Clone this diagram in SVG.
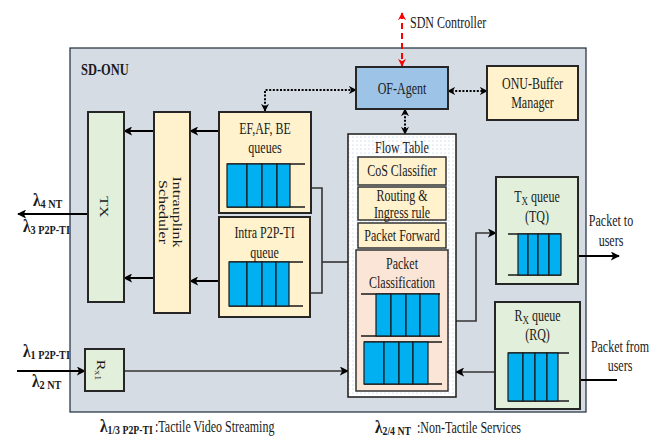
<svg xmlns="http://www.w3.org/2000/svg" width="664" height="436" viewBox="0 0 664 436">
  <style>
    .t { font-family: "Liberation Serif", "Times New Roman", serif; font-size: 16px; fill: #1a1a1a; }
    .b { font-weight: bold; }
    .box { stroke: #262626; stroke-width: 2; }
    .sub { stroke: #333; stroke-width: 1.5; }
    .cream { fill: #fff2cc; }
    .green { fill: #e2efda; }
    .cell { fill: #00b0f0; stroke: #1a1a1a; stroke-width: 1.2; }
    .rail { stroke: #1a1a1a; stroke-width: 1.5; fill: none; }
    .wire { stroke: #000; stroke-width: 2; fill: none; }
    .thin { stroke: #333; stroke-width: 1.6; fill: none; }
    .dot { stroke: #000; stroke-width: 2; stroke-dasharray: 2 1.6; fill: none; }
    .red { stroke: #ff0000; stroke-width: 2; stroke-dasharray: 6 4; fill: none; }
  </style>
  <defs>
    <marker id="ah" viewBox="0 0 10 10" refX="9" refY="5" markerWidth="9" markerHeight="9" markerUnits="userSpaceOnUse" orient="auto-start-reverse">
      <path d="M0,0 L10,5 L0,10 L2.5,5 z" fill="#000"/>
    </marker>
    <marker id="ahd" viewBox="0 0 10 10" refX="9" refY="5" markerWidth="8" markerHeight="8" markerUnits="userSpaceOnUse" orient="auto-start-reverse">
      <path d="M0,0 L10,5 L0,10 L3,5 z" fill="#000"/>
    </marker>
    <marker id="ahr" viewBox="0 0 10 10" refX="9" refY="5" markerWidth="8" markerHeight="8" markerUnits="userSpaceOnUse" orient="auto-start-reverse">
      <path d="M0,0 L10,5 L0,10 L3,5 z" fill="#ff0000"/>
    </marker>
    <pattern id="dots" width="4" height="4" patternUnits="userSpaceOnUse">
      <rect width="4" height="4" fill="#ffffff"/>
      <circle cx="1" cy="1" r="0.6" fill="#a9c1de"/>
    </pattern>
  </defs>

  <!-- SD-ONU enclosure -->
  <g id="sd-onu">
    <rect x="70" y="48" width="516" height="364" fill="#d6dce4" stroke="#1c2b39" stroke-width="1.2"/>
    <text class="t b" transform="translate(81,75) scale(.78 1)">SD-ONU</text>
  </g>

  <!-- connectors -->
  <g id="connectors">
    <path class="red" d="M402,13 V66" marker-start="url(#ahr)" marker-end="url(#ahr)"/>
    <path class="dot" d="M448,91 H487" marker-start="url(#ahd)" marker-end="url(#ahd)"/>
    <path class="dot" d="M265,111 V90 H356" marker-start="url(#ahd)" marker-end="url(#ahd)"/>
    <path class="dot" d="M405,109 V134" marker-start="url(#ahd)" marker-end="url(#ahd)"/>
    <path class="wire" d="M154,131 H124" marker-end="url(#ah)"/>
    <path class="wire" d="M154,278 H124" marker-end="url(#ah)"/>
    <path class="wire" d="M219,131 H190" marker-end="url(#ah)"/>
    <path class="wire" d="M219,281 H190" marker-end="url(#ah)"/>
    <path class="wire" d="M88,214 H18" marker-end="url(#ah)"/>
    <path class="wire" d="M17,371 H85" marker-end="url(#ah)"/>
    <path class="thin" d="M124,371 H348" marker-end="url(#ah)"/>
    <path class="thin" d="M495,372 H456" marker-end="url(#ah)"/>
    <path class="thin" d="M291,188 H322 V293 H291" marker-start="url(#ah)" marker-end="url(#ah)"/>
    <path class="thin" d="M348,262 H322"/>
    <path class="thin" d="M456,321 H476 V233 H496" marker-end="url(#ah)"/>
    <path class="wire" d="M561,256 H619" marker-end="url(#ah)"/>
    <path class="wire" d="M617,380 H558" marker-end="url(#ah)"/>
  </g>

  <g id="sdn-controller">
    <text class="t" transform="translate(410,28) scale(.75 1)">SDN Controller</text>
  </g>

  <g id="of-agent">
    <rect class="box" x="356" y="67" width="92" height="42" fill="#9dc3e6"/>
    <text class="t" text-anchor="middle" transform="translate(402,94) scale(.75 1)">OF-Agent</text>
  </g>

  <g id="onu-buffer-manager">
    <rect class="box cream" x="487" y="66" width="91" height="54"/>
    <text class="t" text-anchor="middle" transform="translate(532.5,89) scale(.75 1)">ONU-Buffer</text>
    <text class="t" text-anchor="middle" transform="translate(532.5,108) scale(.75 1)">Manager</text>
  </g>

  <g id="flow-table">
    <rect x="348" y="134" width="108" height="263" fill="url(#dots)" stroke="#1a1a1a" stroke-width="1.5"/>
    <text class="t" text-anchor="middle" transform="translate(402,153) scale(.75 1)">Flow Table</text>
    <rect class="sub cream" x="358" y="157" width="88" height="28"/>
    <text class="t" text-anchor="middle" transform="translate(402,176) scale(.75 1)">CoS Classifier</text>
    <rect class="sub cream" x="358" y="187" width="88" height="33"/>
    <text class="t" text-anchor="middle" transform="translate(402,201) scale(.75 1)">Routing &amp;</text>
    <text class="t" text-anchor="middle" transform="translate(402,218) scale(.75 1)">Ingress rule</text>
    <rect class="sub cream" x="358" y="223" width="88" height="25"/>
    <text class="t" text-anchor="middle" transform="translate(402,241) scale(.75 1)">Packet Forward</text>
  </g>

  <g id="packet-classification">
    <rect class="sub" x="356" y="250" width="92" height="141" fill="#fbe5d6"/>
    <text class="t" text-anchor="middle" transform="translate(402,269) scale(.75 1)">Packet</text>
    <text class="t" text-anchor="middle" transform="translate(402,288) scale(.75 1)">Classification</text>
    <path class="rail" d="M361,294 H440 M361,336 H440"/>
    <rect class="cell" x="376" y="294" width="15" height="42"/>
    <rect class="cell" x="391" y="294" width="15" height="42"/>
    <rect class="cell" x="406" y="294" width="14" height="42"/>
    <rect class="cell" x="420" y="294" width="19" height="42"/>
    <path class="rail" d="M364,342 H442 M364,384 H442"/>
    <rect class="cell" x="364" y="342" width="20" height="42"/>
    <rect class="cell" x="384" y="342" width="15" height="42"/>
    <rect class="cell" x="399" y="342" width="14" height="42"/>
    <rect class="cell" x="413" y="342" width="15" height="42"/>
  </g>

  <g id="ef-af-be-queues">
    <rect class="box cream" x="219" y="112" width="92" height="101"/>
    <text class="t" text-anchor="middle" transform="translate(265,134) scale(.75 1)">EF,AF, BE</text>
    <text class="t" text-anchor="middle" transform="translate(265,153) scale(.75 1)">queues</text>
    <path class="rail" d="M227,164 H305 M227,207 H305"/>
    <rect class="cell" x="227" y="164" width="20" height="43"/>
    <rect class="cell" x="247" y="164" width="15" height="43"/>
    <rect class="cell" x="262" y="164" width="15" height="43"/>
    <rect class="cell" x="277" y="164" width="13" height="43"/>
  </g>

  <g id="intra-p2p-ti-queue">
    <rect class="box cream" x="219" y="217" width="91" height="100"/>
    <text class="t" text-anchor="middle" transform="translate(264.5,238) scale(.75 1)">Intra P2P-TI</text>
    <text class="t" text-anchor="middle" transform="translate(264.5,258) scale(.75 1)">queue</text>
    <path class="rail" d="M229,262 H303 M229,306 H303"/>
    <rect class="cell" x="229" y="262" width="18" height="44"/>
    <rect class="cell" x="247" y="262" width="15" height="44"/>
    <rect class="cell" x="262" y="262" width="14" height="44"/>
    <rect class="cell" x="276" y="262" width="13" height="44"/>
  </g>

  <g id="intrauplink-scheduler">
    <rect class="box cream" x="154" y="112" width="36" height="201"/>
    <text class="t" text-anchor="middle" transform="translate(173,212) scale(.8 1) rotate(90)">Intrauplink</text>
    <text class="t" text-anchor="middle" transform="translate(159,212) scale(.8 1) rotate(90)">Scheduler</text>
  </g>

  <g id="tx">
    <rect class="box green" x="88" y="112" width="36" height="190"/>
    <text class="t" text-anchor="middle" transform="translate(100,207) scale(.8 1) rotate(90)">TX</text>
    <text class="t b" transform="translate(33,206) scale(.85 1)"><tspan font-size="18">λ</tspan><tspan font-size="12" dy="2">4 NT</tspan></text>
    <text class="t b" transform="translate(23,232) scale(.85 1)"><tspan font-size="18">λ</tspan><tspan font-size="12" dy="2">3 P2P-TI</tspan></text>
  </g>

  <g id="rx1">
    <rect class="box green" x="85" y="349" width="39" height="42"/>
    <text class="t" font-size="15" text-anchor="middle" transform="translate(97,370) scale(.8 1) rotate(90)">R<tspan font-size="10" dy="3">x1</tspan></text>
    <text class="t b" transform="translate(23,357) scale(.85 1)"><tspan font-size="18">λ</tspan><tspan font-size="12" dy="2">1 P2P-TI</tspan></text>
    <text class="t b" transform="translate(32,387) scale(.85 1)"><tspan font-size="18">λ</tspan><tspan font-size="12" dy="2">2 NT</tspan></text>
  </g>

  <g id="tx-queue">
    <rect class="box green" x="496" y="177" width="82" height="107"/>
    <text class="t" text-anchor="middle" transform="translate(537,202) scale(.75 1)">T<tspan font-size="12" dy="3">X</tspan><tspan dy="-3">  queue</tspan></text>
    <text class="t" text-anchor="middle" transform="translate(537,222) scale(.75 1)">(TQ)</text>
    <path class="rail" d="M508,234 H561 M508,275 H561"/>
    <rect class="cell" x="518" y="234" width="10" height="41"/>
    <rect class="cell" x="528" y="234" width="10" height="41"/>
    <rect class="cell" x="538" y="234" width="11" height="41"/>
    <rect class="cell" x="549" y="234" width="12" height="41"/>
    <text class="t" text-anchor="middle" transform="translate(611,226) scale(.75 1)">Packet to</text>
    <text class="t" text-anchor="middle" transform="translate(611,246) scale(.75 1)">users</text>
  </g>

  <g id="rx-queue">
    <rect class="box green" x="495" y="302" width="85" height="107"/>
    <text class="t" text-anchor="middle" transform="translate(537.5,321) scale(.75 1)">R<tspan font-size="12" dy="3">X</tspan><tspan dy="-3">  queue</tspan></text>
    <text class="t" text-anchor="middle" transform="translate(537.5,340) scale(.75 1)">(RQ)</text>
    <path class="rail" d="M508,353 H569 M508,401 H569"/>
    <rect class="cell" x="508" y="353" width="15" height="48"/>
    <rect class="cell" x="523" y="353" width="12" height="48"/>
    <rect class="cell" x="535" y="353" width="12" height="48"/>
    <rect class="cell" x="547" y="353" width="11" height="48"/>
    <text class="t" text-anchor="middle" transform="translate(620,352) scale(.75 1)">Packet from</text>
    <text class="t" text-anchor="middle" transform="translate(620,371) scale(.75 1)">users</text>
  </g>

  <!-- legend -->
  <g id="legend">
    <text class="t b" transform="translate(100,432) scale(.85 1)"><tspan font-size="18">λ</tspan><tspan font-size="11.5" dy="2">1/3 P2P-TI</tspan></text>
    <text class="t" transform="translate(155,432) scale(.75 1)">:Tactile Video Streaming</text>
    <text class="t b" transform="translate(375,433) scale(.85 1)"><tspan font-size="18">λ</tspan><tspan font-size="11.5" dy="2">2/4 NT</tspan></text>
    <text class="t" font-size="17.5" transform="translate(417,433) scale(.75 1)">:Non-Tactile Services</text>
  </g>
</svg>
